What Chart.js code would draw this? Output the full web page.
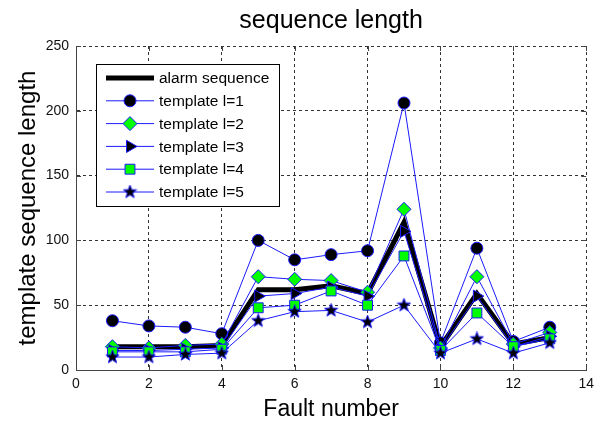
<!DOCTYPE html>
<html>
<head>
<meta charset="utf-8">
<script src="https://cdn.jsdelivr.net/npm/chart.js@4.4.1/dist/chart.umd.min.js"></script>
<style>
  body { margin: 0; background: #fff; }
  canvas { display: block; }
</style>
</head>
<body>
<canvas id="myChart" width="600" height="423"></canvas>
<script>
// values
const faults = [1, 2, 3, 4, 5, 6, 7, 8, 9, 10, 11, 12, 13]
const alarm = [18, 18, 18, 19, 62, 62, 65, 59, 114, 18, 59, 20, 25]
const tpl1 = [38, 34, 33, 28, 100, 85, 89, 92, 206, 21, 94, 22, 33]
const tpl2 = [18, 17, 19, 20, 72, 70, 69, 60, 124, 17, 72, 20, 29]
const tpl3 = [15, 15, 16, 17, 57, 59, 64, 57, 107, 16, 57, 18, 26]
const tpl4 = [14, 14, 14, 16, 48, 50, 61, 50, 88, 15, 44, 18, 24]
const tpl5 = [10, 10, 12, 13, 38, 45, 46, 37, 50, 13, 24, 13, 21]
const xTicks = [0, 2, 4, 6, 8, 10, 12, 14]
const yTicks = [0, 50, 100, 150, 200, 250]

const blue = '#1a1aff'
const green = '#00ff00'
const font = '"Liberation Sans", Arial, sans-serif'

// filled five point star, like matlab's pentagram marker
const makeStar = () => {
    const c = document.createElement('canvas')
    c.width = 15
    c.height = 15
    const g = c.getContext('2d')
    g.beginPath()
    for (let i = 0; i < 10; i++) {
        const r = i % 2 === 0 ? 7 : 2.9
        const a = -Math.PI / 2 + i * Math.PI / 5
        g.lineTo(7.5 + r * Math.cos(a), 7.5 + r * Math.sin(a))
    }
    g.closePath()
    g.fillStyle = '#000'
    g.fill()
    g.strokeStyle = blue
    g.lineWidth = 1
    g.stroke()
    return c
}
const star = makeStar()

const toPoints = (arr) => arr.map((v, i) => ({ x: faults[i], y: v }))

const series = [
    { label: 'alarm sequence', data: alarm, color: '#000', width: 5, style: false, radius: 0, fill: '#000' },
    { label: 'template l=1', data: tpl1, color: blue, width: 1, style: 'circle', radius: 6, fill: '#000' },
    { label: 'template l=2', data: tpl2, color: blue, width: 1, style: 'rectRot', radius: 7, fill: green },
    { label: 'template l=3', data: tpl3, color: blue, width: 1, style: 'triangle', rotation: 90, radius: 7, fill: '#000' },
    { label: 'template l=4', data: tpl4, color: blue, width: 1, style: 'rect', radius: 7, fill: green },
    { label: 'template l=5', data: tpl5, color: blue, width: 1, style: star, radius: 7, fill: '#000' }
]

const datasets = series.map((s, i) => ({
    label: s.label,
    data: toPoints(s.data),
    borderColor: s.color,
    borderWidth: s.width,
    backgroundColor: s.fill,
    pointStyle: s.style,
    pointRotation: s.rotation || 0,
    pointRadius: s.radius,
    pointBorderColor: blue,
    pointBackgroundColor: s.fill,
    pointBorderWidth: 1,
    tension: 0,
    order: series.length - i
}))

// title, inward tick marks and the boxed legend
const extras = {
    id: 'extras',
    afterDatasetsDraw(chart) {
        const c = chart.ctx
        const xs = chart.scales.x
        const ys = chart.scales.y
        const area = chart.chartArea
        c.save()
        c.strokeStyle = '#444'
        c.lineWidth = 1
        c.beginPath()
        xTicks.forEach(t => {
            const px = Math.round(xs.getPixelForValue(t)) + 0.5
            c.moveTo(px, area.bottom); c.lineTo(px, area.bottom - 5)
            c.moveTo(px, area.top); c.lineTo(px, area.top + 5)
        })
        yTicks.forEach(t => {
            const py = Math.round(ys.getPixelForValue(t)) + 0.5
            c.moveTo(area.left, py); c.lineTo(area.left + 5, py)
            c.moveTo(area.right, py); c.lineTo(area.right - 5, py)
        })
        c.stroke()

        // legend box
        const bx = 96, by = 64, bw = 183, bh = 142
        c.fillStyle = '#fff'
        c.fillRect(bx, by, bw, bh)
        c.strokeStyle = '#000'
        c.strokeRect(bx + 0.5, by + 0.5, bw, bh)
        c.font = '15.5px ' + font
        c.textBaseline = 'middle'
        series.forEach((s, i) => {
            const y = by + 14 + i * 22.8
            c.strokeStyle = s.color
            c.lineWidth = s.width
            c.beginPath()
            c.moveTo(106, y); c.lineTo(154, y)
            c.stroke()
            if (s.style) {
                c.fillStyle = s.fill
                c.strokeStyle = blue
                c.lineWidth = 1
                Chart.helpers.drawPoint(c, {
                    pointStyle: s.style, rotation: s.rotation || 0,
                    radius: s.radius, borderWidth: 1
                }, 130, y)
            }
            c.fillStyle = '#000'
            c.fillText(s.label, 159, y + 1)
        })

        c.font = '25px ' + font
        c.textAlign = 'center'
        c.fillStyle = '#000'
        c.fillText('sequence length', (area.left + area.right) / 2, 21)
        c.restore()
    }
}

// matlab style dotted grid
const grid = { color: '#333', lineWidth: 1, drawTicks: false }
const tickFont = { size: 14, family: font }

new Chart(document.getElementById('myChart'), {
    type: 'line',
    data: { datasets },
    plugins: [extras],
    options: {
        responsive: false,
        animation: false,
        layout: { padding: { top: 46, right: 12, left: 0, bottom: 0 } },
        plugins: {
            legend: { display: false },
            tooltip: { enabled: false }
        },
        scales: {
            x: {
                type: 'linear',
                min: 0,
                max: 14,
                afterFit: (scale) => { scale.height = 53 },
                afterBuildTicks: (scale) => { scale.ticks = xTicks.map(v => ({ value: v })) },
                grid: grid,
                border: { color: '#444', dash: [3, 3], width: 1 },
                ticks: { color: '#111', padding: 6, font: tickFont },
                title: {
                    display: true,
                    text: 'Fault number',
                    color: '#000',
                    font: { size: 23, family: font },
                    padding: { top: 0, bottom: 0 }
                }
            },
            y: {
                min: 0,
                max: 250,
                afterFit: (scale) => { scale.width = 76 },
                afterBuildTicks: (scale) => { scale.ticks = yTicks.map(v => ({ value: v })) },
                grid: grid,
                border: { color: '#444', dash: [3, 3], width: 1 },
                ticks: { color: '#111', padding: 7, font: tickFont },
                title: {
                    display: true,
                    text: 'template sequence length',
                    color: '#000',
                    font: { size: 24, family: font },
                    padding: { top: 14, bottom: 0 }
                }
            }
        }
    }
})
</script>
</body>
</html>
